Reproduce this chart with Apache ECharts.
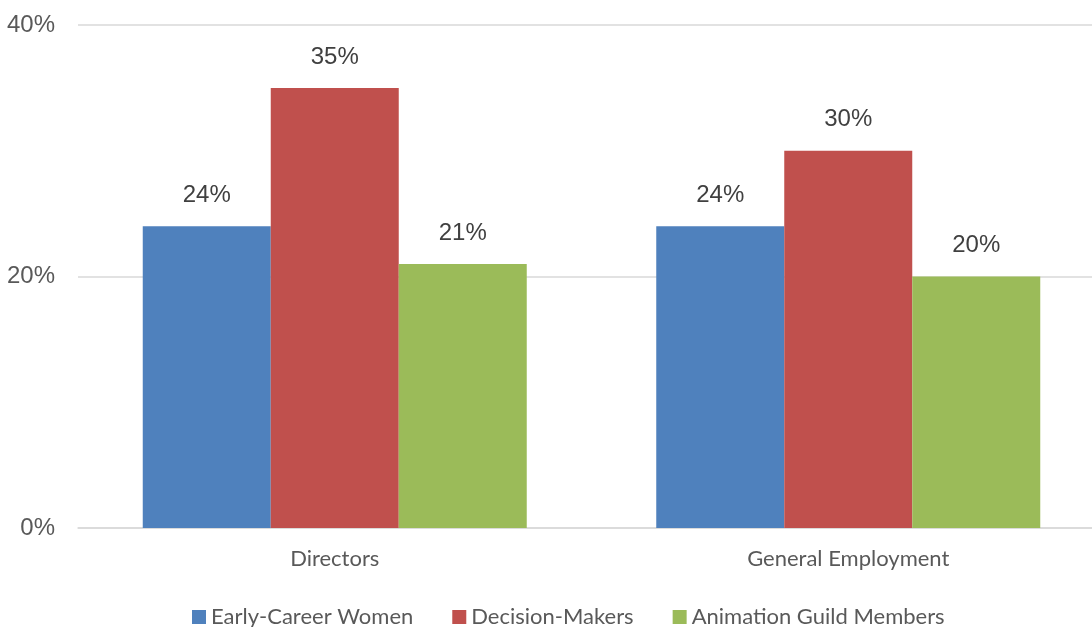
<!DOCTYPE html>
<html>
<head>
<meta charset="utf-8">
<script src="https://cdn.jsdelivr.net/npm/echarts@6/dist/echarts.min.js"></script>
<style>
  html, body { margin: 0; padding: 0; background: #fff; overflow: hidden; }
  /* plot area runs slightly past the right edge of the window */
  #chart { width: 1106px; height: 627px; }
</style>
</head>
<body>
<div id="chart"></div>
<script>
// Share of women (%) by role group
const categories = ['Directors', 'General Employment'];
const seriesNames = ['Early-Career Women', 'Decision-Makers', 'Animation Guild Members'];
const earlyCareerWomen = [24, 24];
const decisionMakers = [35, 30];
const animationGuildMembers = [21, 20];
const yTicks = [0, 20, 40];

const colors = ['#4F81BD', '#C0504D', '#9BBB59'];
const values = [earlyCareerWomen, decisionMakers, animationGuildMembers];

const chart = echarts.init(document.getElementById('chart'), null, { renderer: 'canvas' });

const series = seriesNames.map((name, i) => ({
  name: name,
  type: 'bar',
  data: values[i],
  barWidth: 128,
  barGap: '0%',
  itemStyle: { color: colors[i] },
  label: {
    show: true,
    position: 'top',
    distance: 19,
    formatter: '{c}%',
    fontFamily: 'Liberation Sans, Arial, sans-serif',
    fontSize: 24,
    color: '#404040'
  }
}));

chart.setOption({
  animation: false,
  backgroundColor: '#ffffff',
  grid: { left: 78, top: 25, width: 1027, height: 503, containLabel: false },
  legend: {
    data: seriesNames,
    left: 187,
    top: 601,
    icon: 'rect',
    itemWidth: 14,
    itemHeight: 14,
    itemGap: 39,
    textStyle: {
      fontFamily: 'Lato, sans-serif',
      fontSize: 22,
      color: '#595959'
    }
  },
  xAxis: {
    type: 'category',
    data: categories,
    axisTick: { show: false },
    axisLine: { lineStyle: { color: '#D9D9D9', width: 1.5 } },
    axisLabel: {
      margin: 20,
      fontFamily: 'Lato, sans-serif',
      fontSize: 22,
      color: '#595959'
    }
  },
  yAxis: {
    type: 'value',
    min: yTicks[0],
    max: yTicks[yTicks.length - 1],
    interval: yTicks[1] - yTicks[0],
    axisLine: { show: false },
    axisTick: { show: false },
    splitLine: { lineStyle: { color: '#D9D9D9', width: 1.5 } },
    axisLabel: {
      margin: 23,
      formatter: '{value}%',
      fontFamily: 'Liberation Sans, Arial, sans-serif',
      fontSize: 24,
      color: '#595959',
      padding: [6, 0, 0, 0]
    }
  },
  series: series
});
</script>
</body>
</html>
